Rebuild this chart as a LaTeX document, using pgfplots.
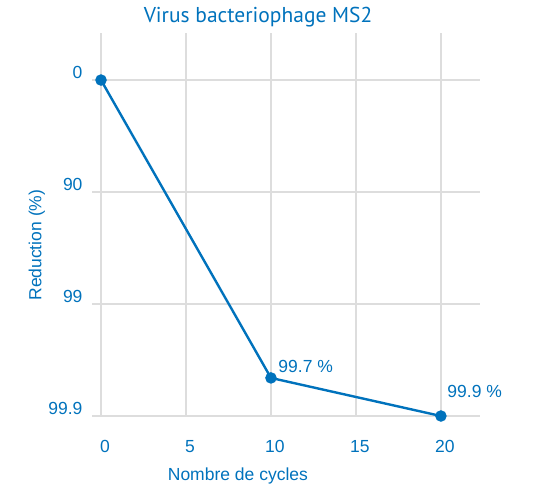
\documentclass[border=0pt]{standalone}
\usepackage{fontspec}
\setmainfont{Liberation Sans}
\newfontfamily\titlefont{PT Sans}
\usepackage{pgfplots}
\pgfplotsset{compat=1.18}
\definecolor{cblue}{RGB}{0,114,188}
\definecolor{cgrid}{RGB}{221,221,221}
\begin{document}
\begin{tikzpicture}[x=1pt,y=1pt]
\path[use as bounding box] (0,0) rectangle (533,483);
\begin{axis}[
  at={(92pt,67pt)}, anchor=south west,
  scale only axis, width=388pt, height=383pt,
  xmin=-0.53, xmax=22.3,
  ymin=-0.42, ymax=3, y dir=reverse,
  xtick={0,5,10,15,20},
  ytick={0,1,2,3},
  yticklabels={0,90,99,99.9},
  /pgf/number format/assume math mode=true,
  ticklabel style={font=\fontsize{17.5}{20}\selectfont, text=cblue},
  xticklabel style={yshift=-21pt, xshift=4pt},
  yticklabel style={xshift=-6pt, yshift=8pt},
  axis line style={draw=none},
  major tick style={draw=none},
  xmajorgrids, ymajorgrids,
  grid style={cgrid, line width=1.2pt},
  clip=false,
  every axis title shift=0pt,
  title={\titlefont Virus bacteriophage MS2},
  title style={at={(axis description cs:0.428,1.042)}, anchor=center, font=\fontsize{21.5}{25}\selectfont, text=cblue},
  xlabel={Nombre de cycles},
  xlabel style={at={(axis description cs:0.376,-0.149)}, anchor=center, yshift=-3pt, font=\fontsize{17.5}{20}\selectfont, text=cblue},
  ylabel={Reduction (\%)},
  ylabel style={at={(axis description cs:-0.142,0.446)}, anchor=center, font=\fontsize{17.5}{20}\selectfont, text=cblue},
]
\addplot[cblue, line width=2.4pt, mark=*, mark size=4.5pt, mark options={fill=cblue, draw=cblue}] coordinates {
  (0,0) (10,2.66) (20,3)
};
\node[anchor=west, text=cblue, font=\fontsize{17.5}{20}\selectfont] at ([xshift=4pt,yshift=11pt]axis cs:10,2.66) {99.7 \%};
\node[anchor=west, text=cblue, font=\fontsize{17.5}{20}\selectfont] at ([xshift=3pt,yshift=25pt]axis cs:20,3) {99.9 \%};
\end{axis}
\end{tikzpicture}
\end{document}
